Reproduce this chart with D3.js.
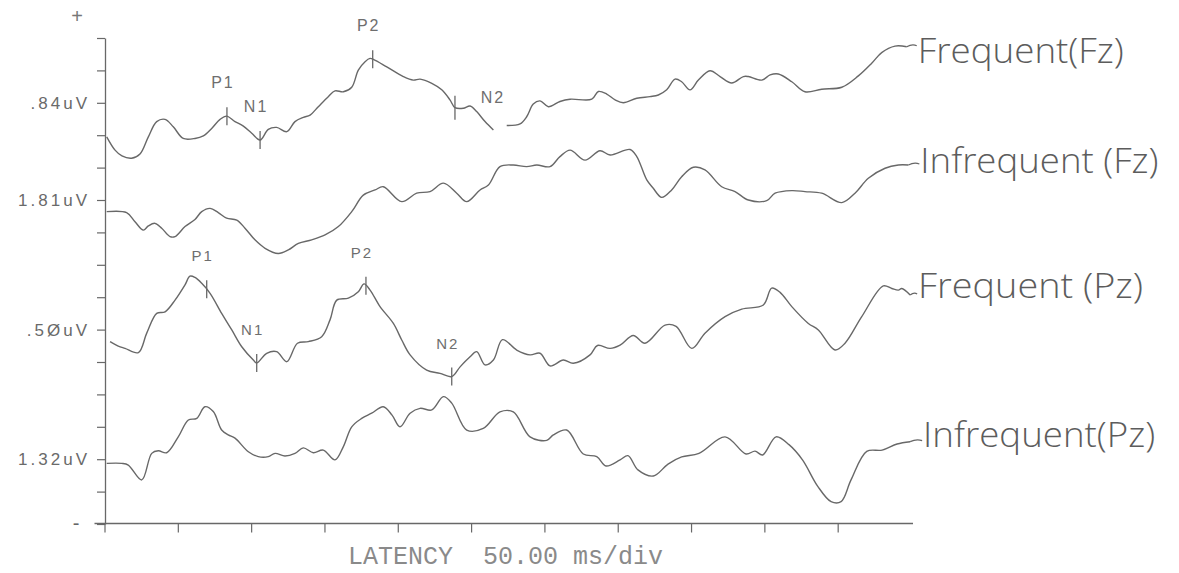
<!DOCTYPE html>
<html>
<head>
<meta charset="utf-8">
<script src="https://cdn.jsdelivr.net/npm/d3@7"></script>
<style>
  html, body { margin: 0; background: #ffffff; }
  svg { display: block; }
</style>
</head>
<body>
<svg id="chart" width="1179" height="573"></svg>
<script>
// Averaged evoked responses: [latency ms, amplitude in plotter divisions]; null marks a pen lift.
const frequentFz = [[1.5,11.95],[7.2,11.54],[11.9,11.36],[18.5,11.29],[24.2,11.42],[29.9,11.95],[35.6,12.42],[41.3,12.49],[46.9,12.26],[53.7,11.90],[61.7,11.90],[67.4,11.98],[73.1,12.21],[78.8,12.49],[83.3,12.59],[89.0,12.42],[94.7,12.28],[100.4,12.06],[106.1,11.85],[111.7,12.18],[117.4,12.24],[124.3,12.11],[129.9,12.42],[135.6,12.55],[140.2,12.62],[145.8,12.88],[152.6,13.19],[157.2,13.37],[162.9,13.34],[168.6,13.48],[173.1,14.01],[177.7,14.27],[181.1,14.37],[183.3,14.34],[192.5,14.11],[203.8,13.81],[210.6,13.70],[215.2,13.73],[223.2,13.60],[230.0,13.40],[235.6,13.09],[239.0,12.85],[244.7,12.83],[249.3,12.90],[253.8,12.73],[259.5,12.42],[265.2,12.16],[270,null],[274.3,12.30],[283.4,12.35],[287.9,12.57],[292.4,12.96],[297.0,13.06],[302.7,12.88],[310.6,13.04],[317.5,13.11],[332.3,13.11],[336.8,13.35],[342.5,13.27],[348.2,13.09],[353.8,13.00],[363.0,13.14],[372.0,13.19],[377.7,13.24],[383.4,13.40],[389.1,13.73],[393.6,13.65],[399.3,13.40],[405.0,13.70],[412.9,13.99],[419.8,13.81],[427.7,13.61],[435.7,13.81],[439.1,13.81],[448.2,13.70],[453.9,13.86],[459.5,13.89],[468.7,13.65],[477.7,13.34],[489.1,13.42],[502.8,13.48],[514.1,13.83],[523.2,14.22],[530.0,14.55],[539.1,14.75],[547.1,14.73]];

const infrequentFz = [[1.5,9.64],[15.1,9.61],[20.8,9.33],[26.5,9.07],[29.9,9.20],[34.4,9.28],[39.0,9.13],[44.7,8.87],[48.1,8.87],[54.9,9.18],[61.7,9.40],[66.3,9.64],[72.0,9.74],[77.6,9.61],[83.3,9.44],[90.2,9.38],[95.8,9.13],[102.6,8.77],[109.5,8.51],[118.5,8.35],[125.4,8.46],[132.2,8.66],[141.3,8.77],[150.4,8.92],[159.5,9.18],[168.6,9.64],[176.5,10.15],[184.5,10.31],[190.1,10.41],[202.7,9.95],[212.9,10.21],[222.0,10.26],[231.1,10.52],[240.2,10.21],[247.0,9.95],[256.1,10.31],[261.8,10.46],[269.7,11.03],[278.8,11.08],[287.9,11.03],[294.8,11.08],[303.8,11.03],[310.6,11.34],[317.5,11.54],[327.7,11.23],[337.9,11.52],[344.8,11.39],[358.4,11.56],[363.0,11.34],[369.8,10.62],[374.1,10.37],[380.0,10.08],[386.8,10.31],[393.6,10.72],[401.6,11.01],[409.5,10.93],[420.9,10.41],[430.0,10.26],[439.1,10.00],[451.6,9.98],[457.3,10.21],[468.7,10.29],[477.7,10.26],[489.1,10.21],[502.8,9.92],[511.8,10.21],[520.9,10.67],[532.3,10.98],[541.4,11.08],[548.2,11.08]];

const frequentPz = [[3.8,5.63],[9.4,5.49],[14.0,5.42],[23.1,5.29],[28.8,5.89],[35.6,6.50],[41.3,6.55],[48.1,6.91],[54.9,7.38],[58.3,7.65],[61.7,7.61],[66.3,7.43],[72.0,7.12],[79.9,6.50],[86.8,5.99],[93.6,5.47],[101.5,5.06],[103.8,4.97],[110.6,5.27],[117.4,5.32],[124.3,5.01],[131.6,5.58],[139.0,5.63],[148.1,5.78],[153.8,6.30],[158.4,6.91],[166.3,6.97],[173.1,7.17],[177.0,7.41],[181.1,7.22],[187.9,6.71],[197.0,6.19],[202.7,5.68],[208.4,5.22],[219.7,4.75],[228.8,4.65],[236.8,4.55],[242.5,4.85],[249.3,5.16],[253.8,5.32],[259.5,4.91],[265.2,5.06],[271.4,5.69],[281.1,5.37],[290.2,5.22],[297.0,5.27],[303.8,4.88],[312.9,5.06],[319.7,4.96],[331.1,5.22],[336.2,5.51],[344.8,5.42],[351.6,5.52],[360.6,5.82],[368.6,5.58],[382.3,6.14],[389.8,6.10],[400.5,5.42],[409.5,5.89],[423.2,6.40],[434.6,6.63],[449.3,6.76],[455.0,7.28],[460.7,7.15],[468.7,6.71],[480.0,6.19],[486.8,5.99],[498.2,5.37],[505.0,5.58],[516.4,6.40],[531.1,7.35],[536.9,7.27],[541.4,7.22],[543.7,7.27],[549.4,7.07]];

const infrequentPz = [[1.5,1.87],[11.7,1.87],[16.2,1.82],[25.4,1.36],[32.2,2.18],[36.7,2.26],[42.4,2.20],[50.3,2.69],[57.2,3.21],[62.9,3.26],[68.5,3.62],[74.2,3.47],[79.9,2.90],[84.4,2.75],[89.0,2.65],[98.1,2.23],[104.9,2.08],[111.7,2.08],[116.3,2.18],[123.1,2.10],[129.9,2.18],[135.6,2.35],[142.4,2.20],[149.2,2.28],[157.2,1.98],[162.9,2.39],[168.6,3.00],[175.4,3.26],[182.2,3.42],[190.1,3.62],[196.1,3.36],[201.5,3.00],[208.4,3.42],[215.2,3.57],[223.2,3.52],[231.1,3.93],[236.8,3.73],[247.0,2.90],[258.3,2.95],[269.7,3.46],[278.8,3.46],[290.2,2.69],[301.6,2.58],[306.1,2.75],[315.2,2.90],[326.5,2.16],[335.7,2.08],[342.0,1.79],[351.6,1.98],[357.0,2.11],[363.8,1.67],[374.3,1.48],[384.3,1.85],[393.6,2.07],[405.4,2.18],[423.2,2.69],[437.5,2.16],[443.6,2.25],[448.8,2.13],[458.0,2.69],[466.8,2.45],[476.0,1.98],[486.3,1.17],[495.5,0.69],[502.3,0.69],[509.1,1.36],[519.8,2.24],[530.3,2.28],[540.5,2.47],[549.4,2.54]];

const traceNames = ["Frequent(Fz)", "Infrequent (Fz)", "Frequent (Pz)", "Infrequent(Pz)"];

// Component latencies marked on the frequent-stimulus traces
const peaks = [
  { trace: 0, name: "P1", ms: 83.5 },
  { trace: 0, name: "N1", ms: 106.1 },
  { trace: 0, name: "P2", ms: 182.9 },
  { trace: 0, name: "N2", ms: 239.0 },
  { trace: 2, name: "P1", ms: 69.7 },
  { trace: 2, name: "N1", ms: 103.8 },
  { trace: 2, name: "P2", ms: 178.3 },
  { trace: 2, name: "N2", ms: 236.8 }
];

const xTicks = d3.range(0, 501, 50);           // one tick per 50 ms division
const yTicks = d3.range(0, 16);                // vertical divisions
const yTickLabels = [
  { div: 13, text: ".84uV" },
  { div: 10, text: "1.81uV" },
  { div: 6,  text: ".5ØuV" },
  { div: 2,  text: "1.32uV" }
];
const axisTitle = "LATENCY  50.00 ms/div";

// ---------------------------------------------------------------------------
const traces = [frequentFz, infrequentFz, frequentPz, infrequentPz];
const svg = d3.select("#chart");
const ink = "#686868";

const x = d3.scaleLinear().domain([0, 550]).range([104.5, 911]);
const y = d3.scaleLinear().domain([0, 15]).range([524, 38]);

// Y axis with the amplitude labels
const labelMap = new Map(yTickLabels.map(d => [d.div, d.text]));
const yAxis = svg.append("g")
  .attr("transform", "translate(105,0)")
  .call(d3.axisLeft(y).tickValues(yTicks).tickSize(8).tickSizeOuter(0)
    .tickPadding(7).tickFormat(d => labelMap.get(d) || ""));
yAxis.select(".domain").attr("stroke", ink).attr("stroke-width", 1.3);
yAxis.selectAll(".tick line").attr("stroke", ink).attr("stroke-width", 1.2);
yAxis.selectAll(".tick text")
  .attr("fill", "#6a6a6a")
  .style("font-family", "'Liberation Sans', Arial, sans-serif")
  .style("font-size", "17px")
  .style("letter-spacing", "3px");

// X axis
const xAxis = svg.append("g")
  .attr("transform", "translate(0,523.5)")
  .call(d3.axisBottom(x).tickValues(xTicks).tickSize(9).tickSizeOuter(0).tickFormat(""));
xAxis.select(".domain").remove();
xAxis.selectAll(".tick line").attr("stroke", ink).attr("stroke-width", 1.2);
xAxis.append("line")
  .attr("x1", x(0) - 10).attr("x2", x(550) + 2)
  .attr("stroke", ink).attr("stroke-width", 1.3);

// Polarity marks
const markFont = "'Liberation Sans', Arial, sans-serif";
svg.append("text").attr("x", 77).attr("y", 23).attr("text-anchor", "middle")
  .attr("fill", "#777").style("font-family", markFont).style("font-size", "20px").text("+");
svg.append("text").attr("x", 76).attr("y", 530).attr("text-anchor", "middle")
  .attr("fill", "#666").style("font-family", markFont).style("font-size", "20px").text("-");

svg.append("text")
  .attr("x", 348).attr("y", 564)
  .attr("fill", "#8a8a8a")
  .style("font-family", "'Liberation Mono', 'Courier New', monospace")
  .style("font-size", "25px")
  .style("white-space", "pre")
  .text(axisTitle);

// Traces
const line = d3.line()
  .defined(d => d[1] !== null)
  .x(d => x(d[0]))
  .y(d => y(d[1]))
  .curve(d3.curveCatmullRom.alpha(0.5));

svg.append("g").selectAll("path")
  .data(traces)
  .join("path")
  .attr("d", line)
  .attr("fill", "none")
  .attr("stroke", ink)
  .attr("stroke-width", 1.4)
  .attr("stroke-linejoin", "round");

// Value of a trace at a latency (linear interpolation between samples)
function valueAt(values, ms) {
  const pts = values.filter(d => d[1] !== null);
  const i = d3.bisector(d => d[0]).left(pts, ms);
  if (i <= 0) return pts[0][1];
  if (i >= pts.length) return pts[pts.length - 1][1];
  const a = pts[i - 1], b = pts[i];
  return a[1] + (b[1] - a[1]) * (ms - a[0]) / (b[0] - a[0]);
}

// Component markers and their names
const peakG = svg.append("g");
peaks.forEach(p => {
  const px = x(p.ms);
  const py = y(valueAt(traces[p.trace], p.ms));
  const beside = p.trace === 0 && p.name === "N2";
  const half = beside ? 12 : 9;
  peakG.append("line")
    .attr("x1", px).attr("x2", px)
    .attr("y1", py - half).attr("y2", py + half)
    .attr("stroke", ink).attr("stroke-width", 1.3);
  peakG.append("text")
    .attr("x", beside ? px + 38 : px - 4)
    .attr("y", beside ? py - 5 : py - 28)
    .attr("text-anchor", "middle")
    .attr("fill", "#6e6e6e")
    .style("font-family", markFont)
    .style("font-size", p.trace === 0 ? "16px" : "15px")
    .style("letter-spacing", "2px")
    .text(p.name);
});

// Hand-written trace names with short pen strokes from each trace end
const nameLayout = [
  { dx: 11, dy: 16, width: 206 },
  { dx: 12, dy: 8,  width: 238 },
  { dx: 8,  dy: 3,  width: 225 },
  { dx: 13, dy: 5,  width: 232 }
];
const handFont = "'Open Sans', Lato, 'Noto Sans', sans-serif";
traces.forEach((vals, i) => {
  const last = vals[vals.length - 1];
  const ex = x(last[0]), ey = y(last[1]);
  const L = nameLayout[i];
  svg.append("path")
    .attr("d", `M${ex},${ey} Q${ex + L.dx * 0.5},${ey - 3} ${ex + L.dx - 1},${ey - 1}`)
    .attr("fill", "none").attr("stroke", "#666").attr("stroke-width", 1.3);
  svg.append("text")
    .attr("x", ex + L.dx)
    .attr("y", ey + L.dy)
    .attr("textLength", L.width)
    .attr("lengthAdjust", "spacingAndGlyphs")
    .attr("fill", "#5c5c5c")
    .style("font-family", handFont)
    .style("font-weight", 300)
    .style("font-size", "35px")
    .text(traceNames[i]);
});
</script>
</body>
</html>
